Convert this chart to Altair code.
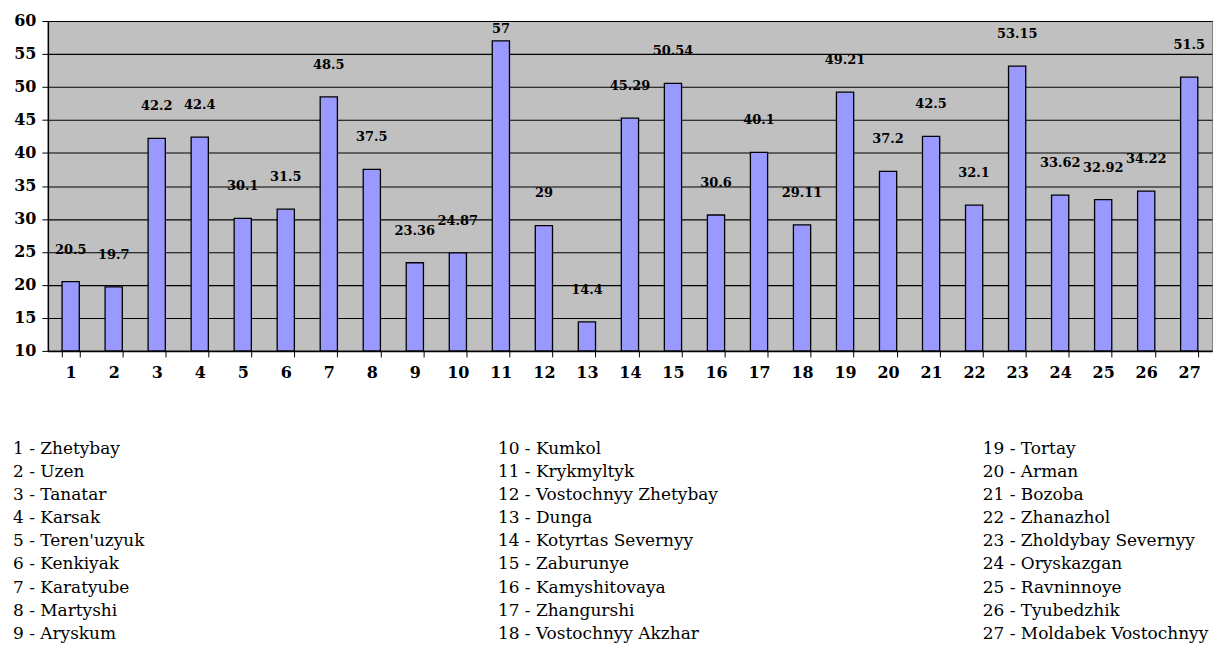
import altair as alt
import pandas as pd

numbers = list(range(1, 28))
values = [20.5, 19.7, 42.2, 42.4, 30.1, 31.5, 48.5, 37.5, 23.36, 24.87, 57, 29, 14.4,
          45.29, 50.54, 30.6, 40.1, 29.11, 49.21, 37.2, 42.5, 32.1, 53.15, 33.62, 32.92,
          34.22, 51.5]
labels = ["20.5", "19.7", "42.2", "42.4", "30.1", "31.5", "48.5", "37.5", "23.36", "24.87",
          "57", "29", "14.4", "45.29", "50.54", "30.6", "40.1", "29.11", "49.21", "37.2",
          "42.5", "32.1", "53.15", "33.62", "32.92", "34.22", "51.5"]
names = ["Zhetybay", "Uzen", "Tanatar", "Karsak", "Teren'uzyuk", "Kenkiyak", "Karatyube",
         "Martyshi", "Aryskum", "Kumkol", "Krykmyltyk", "Vostochnyy Zhetybay", "Dunga",
         "Kotyrtas Severnyy", "Zaburunye", "Kamyshitovaya", "Zhangurshi", "Vostochnyy Akzhar",
         "Tortay", "Arman", "Bozoba", "Zhanazhol", "Zholdybay Severnyy", "Oryskazgan",
         "Ravninnoye", "Tyubedzhik", "Moldabek Vostochnyy"]

df = pd.DataFrame({"n": [str(n) for n in numbers], "v": values, "lab": labels})
order = [str(n) for n in numbers]

serif = "DejaVu Serif"

xenc = alt.X("n:N", sort=order, title=None,
             scale=alt.Scale(paddingInner=0.6, paddingOuter=0.33),
             axis=alt.Axis(labelAngle=0, labelFont=serif, labelFontSize=16,
                           labelFontWeight="bold", labelColor="black", labelPadding=8,
                           tickBand="extent", tickColor="black", tickSize=6,
                           domainColor="black", domainWidth=1.5, grid=False))
yscale = alt.Scale(domain=[10, 60], nice=False, zero=False)
yaxis = alt.Axis(values=list(range(10, 61, 5)), labelFont=serif, labelFontSize=16,
                 labelFontWeight="bold", labelColor="black", labelPadding=6,
                 tickColor="black", tickSize=6, domainColor="black",
                 domainWidth=1.5, grid=True, gridColor="black", gridWidth=1.1,
                 gridOpacity=1, labelOverlap=False, title=None)

bars = alt.Chart(df).mark_bar(color="#9999FF", stroke="black", strokeWidth=1.3).encode(
    x=xenc,
    y=alt.Y("v:Q", title=None, scale=yscale, axis=yaxis),
    y2=alt.datum(10),
)

texts = alt.Chart(df).transform_calculate(
    ly="min(datum.v + 3.8, 57.8)"
).mark_text(font=serif, fontSize=13, fontWeight="bold", color="black",
            baseline="bottom").encode(
    x=alt.X("n:N", sort=order),
    y=alt.Y("ly:Q", title=None, scale=yscale, axis=yaxis),
    text="lab:N",
)

top = alt.layer(bars, texts).properties(
    width=1168, height=331,
    view=alt.ViewBackground(fill="#C0C0C0", stroke="#808080"))

leg = pd.DataFrame({
    "t": [f"{n} - {nm}" for n, nm in zip(numbers, names)],
    "col": [(n - 1) // 9 for n in numbers],
    "row": [(n - 1) % 9 for n in numbers],
})

legend = alt.Chart(leg).mark_text(font=serif, fontSize=17, color="black", align="left",
                                  baseline="middle").encode(
    x=alt.X("col:Q", scale=alt.Scale(domain=[0, 2], range=[-35, 938]), axis=None),
    y=alt.Y("row:Q", scale=alt.Scale(domain=[0, 8], range=[0, 186]), axis=None),
    text="t:N",
).properties(width=1168, height=186, view=alt.ViewBackground(stroke=None, fill=None))

chart = alt.vconcat(top, legend, spacing=58).properties(
    padding={"top": 3, "left": 5, "right": 5, "bottom": 0}).configure(
    background="white")

chart.save("out.html", embed_options={"renderer": "svg", "actions": False})
